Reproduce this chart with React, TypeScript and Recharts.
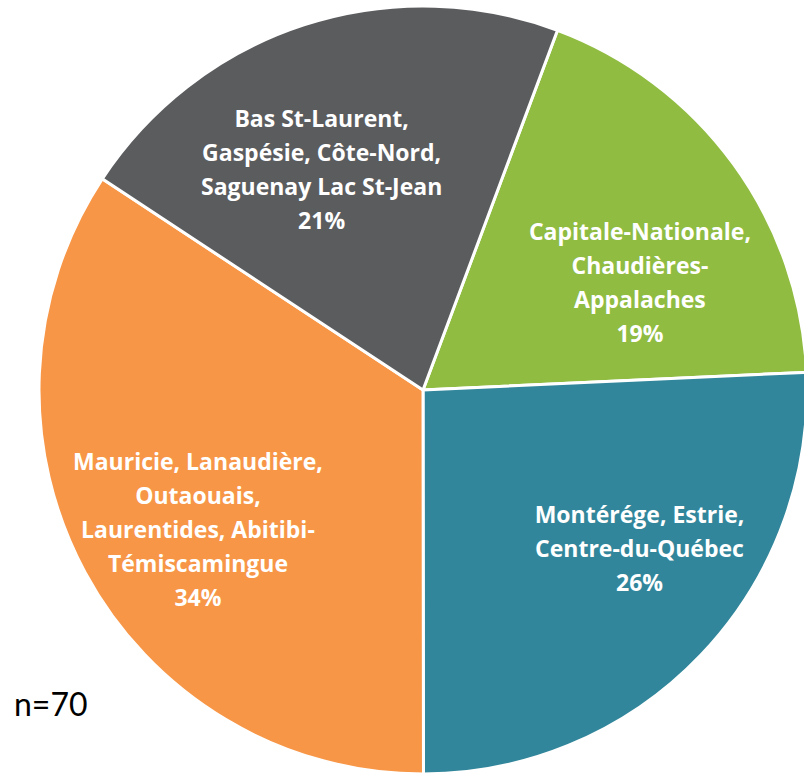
import React from 'react';
import { PieChart, Pie, Cell } from 'recharts';

// regions (label lines), respondent counts out of n=70, slice colours
const regionLines: string[][] = [
  ['Capitale-Nationale,', 'Chaudières-', 'Appalaches'],
  ['Montérége, Estrie,', 'Centre-du-Québec'],
  ['Mauricie, Lanaudière,', 'Outaouais,', 'Laurentides, Abitibi-', 'Témiscamingue'],
  ['Bas St-Laurent,', 'Gaspésie, Côte-Nord,', 'Saguenay Lac St-Jean'],
];
const counts = [13, 18, 24, 15];
const colors = ['#8fbc41', '#31869b', '#f79646', '#5b5c5e'];
const sampleLabel = 'n=70';

// label placement tweaks (clockwise degrees, fraction of radius) to mimic Excel's layout
const labelNudge = [
  { deg: 9.8, r: 0.63 },
  { deg: -7.3, r: 0.7 },
  { deg: -3.5, r: 0.69 },
  { deg: -6.7, r: 0.63 },
];

const data = counts.map((value, i) => ({ name: regionLines[i].join(' '), value }));

const RAD = Math.PI / 180;
const LINE_H = 34;

const renderLabel = (props: any) => {
  const { cx, cy, midAngle, outerRadius, percent, index } = props;
  const nudge = labelNudge[index];
  const ang = (midAngle - nudge.deg) * RAD;
  const r = outerRadius * nudge.r;
  const x = cx + r * Math.cos(ang);
  const y = cy - r * Math.sin(ang);
  const lines = [...regionLines[index], `${Math.round(percent * 100)}%`];
  const firstBase = y - ((lines.length - 1) / 2) * LINE_H + 8;
  return (
    <text
      x={x}
      y={firstBase}
      fill="#ffffff"
      textAnchor="middle"
      fontFamily='"Open Sans", Lato, sans-serif'
      fontWeight={700}
      fontSize={23}
    >
      {lines.map((ln, i) => (
        <tspan key={i} x={x} y={firstBase + i * LINE_H}>
          {ln}
        </tspan>
      ))}
    </text>
  );
};

export default function App() {
  return (
    <div style={{ position: 'absolute', left: 0, top: 0, width: 804, height: 776, overflow: 'hidden', background: '#fff' }}>
      <PieChart width={804} height={776} margin={{ top: 0, right: 0, bottom: 0, left: 0 }}>
        <Pie
          data={data}
          dataKey="value"
          nameKey="name"
          cx={423}
          cy={390}
          outerRadius={384}
          startAngle={69.5}
          endAngle={-290.5}
          stroke="#ffffff"
          strokeWidth={3}
          labelLine={false}
          label={renderLabel}
          isAnimationActive={false}
        >
          {data.map((d, i) => (
            <Cell key={d.name} fill={colors[i]} />
          ))}
        </Pie>
      </PieChart>
      <svg width={804} height={776} style={{ position: 'absolute', left: 0, top: 0, pointerEvents: 'none' }}>
        <text x={14} y={716} fontFamily="Lato, sans-serif" fontSize={32} fill="#000">
          {sampleLabel}
        </text>
      </svg>
    </div>
  );
}
